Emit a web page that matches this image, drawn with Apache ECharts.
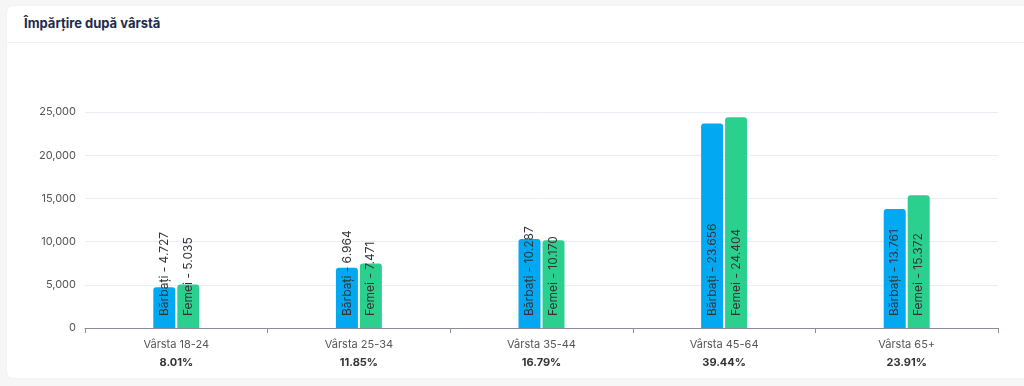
<!DOCTYPE html>
<html>
<head>
<meta charset="utf-8">
<script src="https://cdn.jsdelivr.net/npm/echarts@6/dist/echarts.min.js"></script>
<style>
  html, body { margin: 0; padding: 0; background: #f6f6f6; width: 1024px; height: 386px; overflow: hidden; font-family: Inter, Roboto, "Noto Sans", sans-serif; }
  #card { position: absolute; left: 7px; top: 6px; width: 1030px; height: 372px; background: #fff; border-radius: 6px; box-shadow: 0 0 2px rgba(0,0,0,0.05); }
  #title { position: absolute; left: 17px; top: 9px; font-size: 13px; font-weight: 700; color: #1e2b4a; }
  #sep { position: absolute; left: 0; right: 0; top: 36px; height: 1px; background: #f0f0f2; }
  #chart { position: absolute; left: 0; top: 0; width: 1024px; height: 386px; }
</style>
</head>
<body>
<div id="card"><div id="title">Împărțire după vârstă</div><div id="sep"></div></div>
<div id="chart"></div>
<script>
const categories = ['Vârsta 18-24', 'Vârsta 25-34', 'Vârsta 35-44', 'Vârsta 45-64', 'Vârsta 65+'];
const percentages = ['8.01%', '11.85%', '16.79%', '39.44%', '23.91%'];
const barbati = [4727, 6964, 10287, 23656, 13761];
const femei = [5035, 7471, 10170, 24404, 15372];
const yTicks = [0, 5000, 10000, 15000, 20000, 25000];

const fmtDot = v => String(v).replace(/\B(?=(\d{3})+(?!\d))/g, '.');
const fmtComma = v => String(v).replace(/\B(?=(\d{3})+(?!\d))/g, ',');

const chart = echarts.init(document.getElementById('chart'));
function barLabel(name) {
  return {
    show: true,
    position: 'insideBottom',
    rotate: 90,
    align: 'left',
    verticalAlign: 'middle',
    distance: 12,
    color: '#333',
    fontSize: 12,
    fontFamily: 'Inter, Roboto, sans-serif',
    formatter: p => name + ' - ' + fmtDot(p.value)
  };
}
chart.setOption({
  animation: false,
  grid: { left: 85, right: 26, top: 112, bottom: 58, containLabel: false },
  xAxis: {
    type: 'category',
    data: categories,
    axisLine: { lineStyle: { color: '#8a8d96' } },
    axisTick: { show: true, length: 5, lineStyle: { color: '#8a8d96' } },
    axisLabel: {
      margin: 8,
      formatter: (v, i) => '{a|' + v + '}\n{b|' + percentages[i] + '}',
      rich: {
        a: { fontSize: 11, color: '#555', fontFamily: 'Inter, Roboto, sans-serif', lineHeight: 18 },
        b: { fontSize: 11, color: '#333', fontWeight: 'bold', fontFamily: 'Inter, Roboto, sans-serif', lineHeight: 18 }
      }
    }
  },
  yAxis: {
    type: 'value',
    min: yTicks[0],
    max: yTicks[yTicks.length - 1],
    interval: yTicks[1] - yTicks[0],
    axisLine: { show: false },
    axisTick: { show: false },
    splitLine: { lineStyle: { color: '#e9edf5' } },
    axisLabel: { color: '#555', fontSize: 11, margin: 9, fontFamily: 'Inter, Roboto, sans-serif', formatter: v => fmtComma(v) }
  },
  series: [
    { name: 'Bărbați', type: 'bar', data: barbati, barWidth: 22, barGap: '9%',
      itemStyle: { color: '#03a8f2', borderRadius: [3, 3, 0, 0] }, label: barLabel('Bărbați') },
    { name: 'Femei', type: 'bar', data: femei, barWidth: 22,
      itemStyle: { color: '#2bd08f', borderRadius: [3, 3, 0, 0] }, label: barLabel('Femei') }
  ]
});
</script>
</body>
</html>
